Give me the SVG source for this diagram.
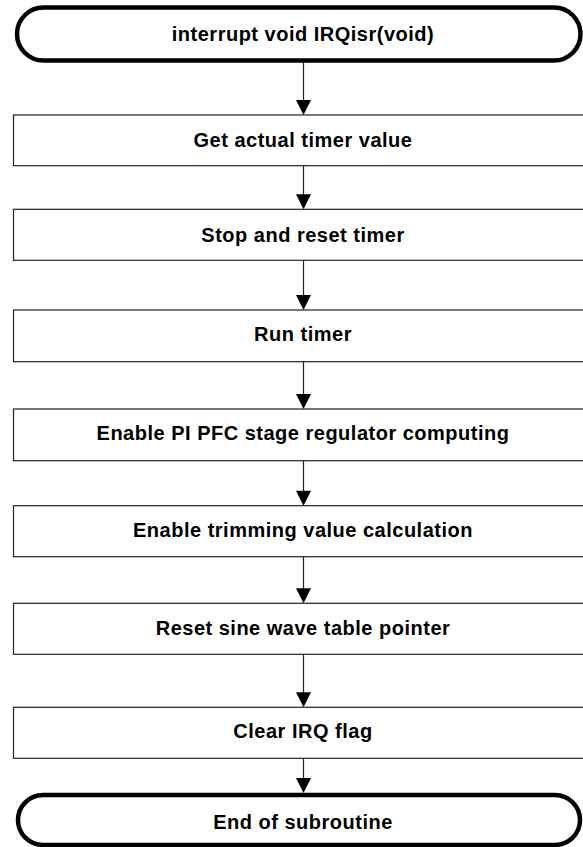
<svg xmlns="http://www.w3.org/2000/svg" width="583" height="847" viewBox="0 0 583 847">
<defs>
<style>
.term{fill:#fff;stroke:#000;stroke-width:4.5}
.box{fill:#fff;stroke:#222;stroke-width:1.2}
.lbl{font-family:"Liberation Sans",Arial,sans-serif;font-weight:bold;font-size:20px;letter-spacing:0.5px;fill:#000;text-anchor:middle}
.conn{stroke:#222;stroke-width:1.2;fill:none}
.head{fill:#000}
</style>
</defs>
<rect width="583" height="847" fill="#fff"/>
<g id="connectors">
<line class="conn" x1="303.5" y1="62" x2="303.5" y2="101"/><polygon class="head" points="296,100 311,100 303.5,115"/>
<line class="conn" x1="303.5" y1="165.7" x2="303.5" y2="195"/><polygon class="head" points="296,194.3 311,194.3 303.5,209.3"/>
<line class="conn" x1="303.5" y1="260.3" x2="303.5" y2="296"/><polygon class="head" points="296,295 311,295 303.5,310"/>
<line class="conn" x1="303.5" y1="361.7" x2="303.5" y2="395"/><polygon class="head" points="296,394 311,394 303.5,409"/>
<line class="conn" x1="303.5" y1="460.7" x2="303.5" y2="491"/><polygon class="head" points="296,490.7 311,490.7 303.5,505.7"/>
<line class="conn" x1="303.5" y1="556.7" x2="303.5" y2="589"/><polygon class="head" points="296,588.3 311,588.3 303.5,603.3"/>
<line class="conn" x1="303.5" y1="654.3" x2="303.5" y2="693"/><polygon class="head" points="296,692.3 311,692.3 303.5,707.3"/>
<line class="conn" x1="303.5" y1="758.3" x2="303.5" y2="780"/><polygon class="head" points="296,778 311,778 303.5,793"/>
</g>
<g id="start"><rect class="term" x="17" y="7.5" width="563.5" height="53" rx="26.5"/><text class="lbl" x="303" y="41">interrupt void IRQisr(void)</text></g>
<g id="n1"><rect class="box" x="13.5" y="115" width="571" height="50.7"/><text class="lbl" x="303" y="146.5">Get actual timer value</text></g>
<g id="n2"><rect class="box" x="13.5" y="209.3" width="571" height="51"/><text class="lbl" x="303" y="241.5">Stop and reset timer</text></g>
<g id="n3"><rect class="box" x="13.5" y="310" width="571" height="51.7"/><text class="lbl" x="303" y="341">Run timer</text></g>
<g id="n4"><rect class="box" x="13.5" y="409" width="571" height="51.7"/><text class="lbl" x="303" y="439.5">Enable PI PFC stage regulator computing</text></g>
<g id="n5"><rect class="box" x="13.5" y="505.7" width="571" height="51"/><text class="lbl" x="303" y="537">Enable trimming value calculation</text></g>
<g id="n6"><rect class="box" x="13.5" y="603.3" width="571" height="51"/><text class="lbl" x="303" y="634.5">Reset sine wave table pointer</text></g>
<g id="n7"><rect class="box" x="13.5" y="707.3" width="571" height="51"/><text class="lbl" x="303" y="737.5">Clear IRQ flag</text></g>
<g id="end"><rect class="term" x="18" y="795" width="562" height="50" rx="25"/><text class="lbl" x="303" y="829">End of subroutine</text></g>
</svg>
